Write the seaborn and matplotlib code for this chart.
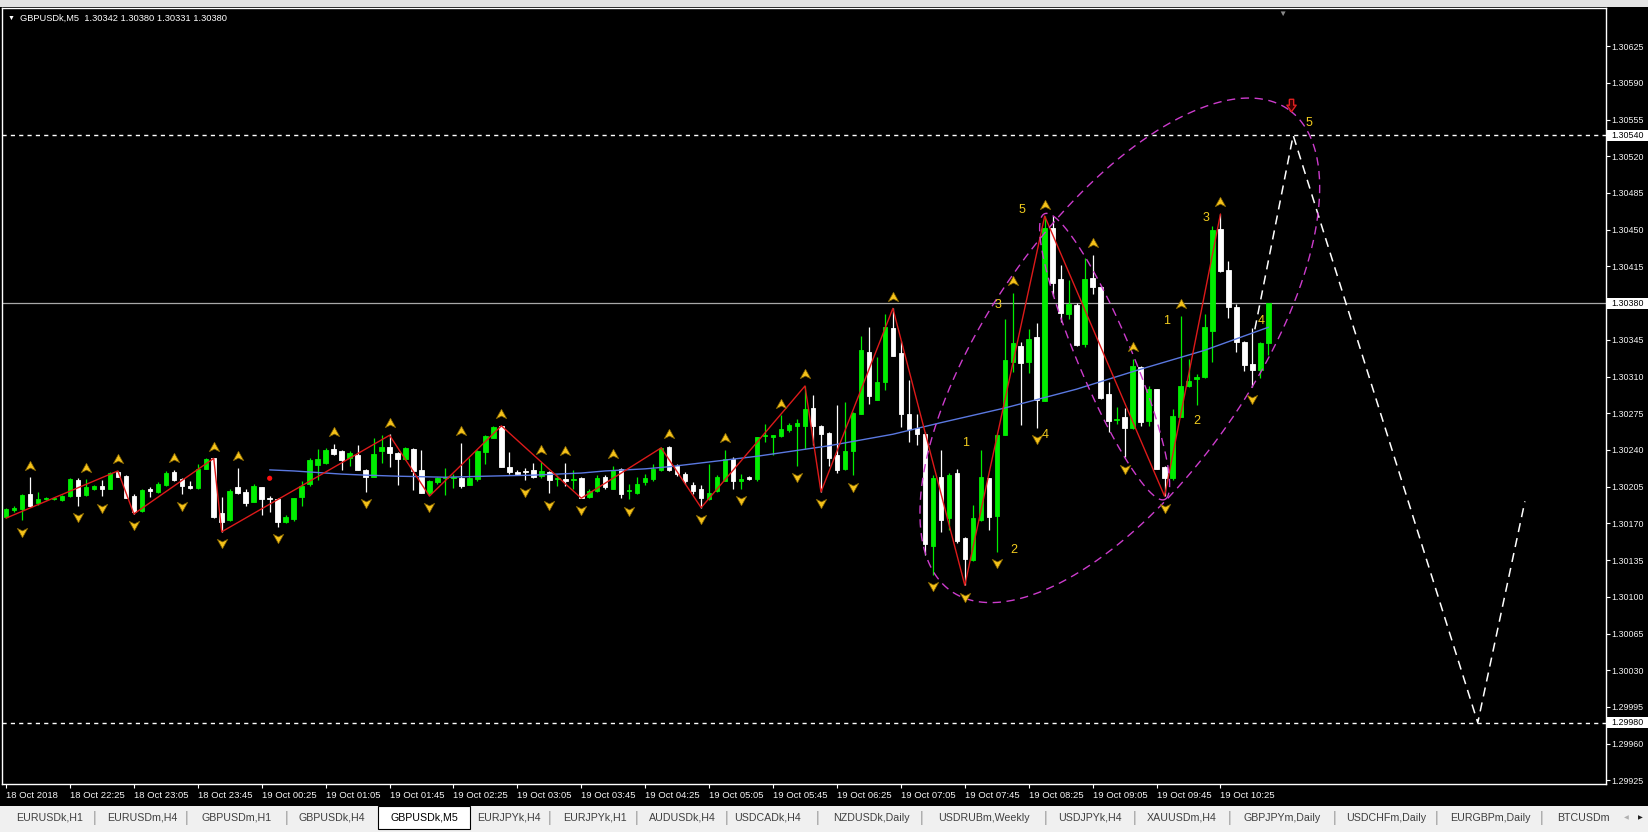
import numpy as np
import pandas as pd
import matplotlib
matplotlib.use("Agg")
import matplotlib.pyplot as plt
import matplotlib.transforms as mtransforms
from matplotlib.patches import Rectangle
import seaborn as sns

# ---------------------------------------------------------------- data
symbol = "GBPUSDk,M5"
header_ohlc = ["1.30342", "1.30380", "1.30331", "1.30380"]

opens = [
    1.30176, 1.30183, 1.30184, 1.30198, 1.30189, 1.30193, 1.30193, 1.30192, 1.30196, 1.30211,
    1.30197, 1.30203, 1.30206, 1.30203, 1.30219, 1.30215, 1.30196, 1.30182, 1.30203, 1.30200,
    1.30207, 1.30219, 1.30212, 1.30206, 1.30204, 1.30222, 1.30232, 1.30180, 1.30173, 1.30205,
    1.30200, 1.30190, 1.30205, 1.30194, 1.30193, 1.30171, 1.30174, 1.30195, 1.30208, 1.30226,
    1.30228, 1.30241, 1.30239, 1.30232, 1.30235, 1.30221, 1.30214, 1.30239, 1.30243, 1.30237,
    1.30231, 1.30241, 1.30221, 1.30199, 1.30209, 1.30213, 1.30213, 1.30213, 1.30207, 1.30212,
    1.30238, 1.30251, 1.30263, 1.30224, 1.30219, 1.30220, 1.30221, 1.30215, 1.30219, 1.30212,
    1.30212, 1.30211, 1.30213, 1.30195, 1.30201, 1.30214, 1.30203, 1.30222, 1.30201, 1.30199,
    1.30209, 1.30212, 1.30221, 1.30243, 1.30225, 1.30217, 1.30207, 1.30203, 1.30193, 1.30201,
    1.30210, 1.30231, 1.30210, 1.30214, 1.30212, 1.30253, 1.30252, 1.30253, 1.30259, 1.30263,
    1.30263, 1.30280, 1.30263, 1.30256, 1.30235, 1.30222, 1.30239, 1.30274, 1.30333, 1.30288,
    1.30305, 1.30356, 1.30332, 1.30274, 1.30261, 1.30255, 1.30148, 1.30214, 1.30175, 1.30218,
    1.30156, 1.30135, 1.30173, 1.30213, 1.30177, 1.30254, 1.30324, 1.30339, 1.30324, 1.30348,
    1.30287, 1.30452, 1.30403, 1.30370, 1.30378, 1.30341, 1.30404, 1.30395, 1.30293, 1.30269,
    1.30271, 1.30261, 1.30319, 1.30268, 1.30298, 1.30224, 1.30213, 1.30271, 1.30301, 1.30308,
    1.30310, 1.30353, 1.30451, 1.30412, 1.30376, 1.30343, 1.30322, 1.30316, 1.30342]
highs = [
    1.30185, 1.30187, 1.30198, 1.30214, 1.30200, 1.30195, 1.30195, 1.30197, 1.30213, 1.30213,
    1.30212, 1.30207, 1.30211, 1.30219, 1.30220, 1.30216, 1.30198, 1.30203, 1.30205, 1.30209,
    1.30220, 1.30221, 1.30213, 1.30210, 1.30227, 1.30232, 1.30232, 1.30195, 1.30203, 1.30223,
    1.30203, 1.30208, 1.30205, 1.30196, 1.30194, 1.30178, 1.30194, 1.30210, 1.30232, 1.30241,
    1.30242, 1.30246, 1.30240, 1.30239, 1.30245, 1.30222, 1.30251, 1.30254, 1.30255, 1.30238,
    1.30243, 1.30242, 1.30240, 1.30211, 1.30214, 1.30223, 1.30217, 1.30247, 1.30232, 1.30240,
    1.30254, 1.30263, 1.30263, 1.30238, 1.30221, 1.30223, 1.30228, 1.30229, 1.30220, 1.30216,
    1.30228, 1.30221, 1.30214, 1.30203, 1.30216, 1.30216, 1.30225, 1.30223, 1.30208, 1.30214,
    1.30217, 1.30227, 1.30243, 1.30244, 1.30227, 1.30219, 1.30209, 1.30207, 1.30227, 1.30216,
    1.30240, 1.30233, 1.30217, 1.30215, 1.30252, 1.30265, 1.30254, 1.30273, 1.30266, 1.30270,
    1.30301, 1.30292, 1.30264, 1.30257, 1.30283, 1.30286, 1.30276, 1.30349, 1.30357, 1.30329,
    1.30370, 1.30375, 1.30344, 1.30307, 1.30274, 1.30257, 1.30216, 1.30240, 1.30218, 1.30222,
    1.30157, 1.30188, 1.30240, 1.30213, 1.30255, 1.30365, 1.30390, 1.30343, 1.30355, 1.30361,
    1.30463, 1.30463, 1.30416, 1.30402, 1.30380, 1.30423, 1.30426, 1.30396, 1.30305, 1.30281,
    1.30280, 1.30327, 1.30320, 1.30301, 1.30298, 1.30225, 1.30279, 1.30368, 1.30327, 1.30312,
    1.30370, 1.30454, 1.30465, 1.30420, 1.30379, 1.30344, 1.30356, 1.30343, 1.30380]
lows = [
    1.30175, 1.30181, 1.30173, 1.30186, 1.30188, 1.30192, 1.30192, 1.30191, 1.30195, 1.30187,
    1.30196, 1.30202, 1.30196, 1.30203, 1.30214, 1.30194, 1.30179, 1.30181, 1.30195, 1.30199,
    1.30206, 1.30210, 1.30198, 1.30203, 1.30203, 1.30222, 1.30175, 1.30162, 1.30172, 1.30198,
    1.30187, 1.30190, 1.30178, 1.30181, 1.30167, 1.30170, 1.30172, 1.30187, 1.30206, 1.30211,
    1.30227, 1.30235, 1.30221, 1.30225, 1.30221, 1.30200, 1.30214, 1.30228, 1.30224, 1.30207,
    1.30230, 1.30202, 1.30199, 1.30197, 1.30208, 1.30197, 1.30204, 1.30204, 1.30207, 1.30210,
    1.30227, 1.30251, 1.30224, 1.30217, 1.30216, 1.30211, 1.30213, 1.30213, 1.30199, 1.30206,
    1.30206, 1.30203, 1.30194, 1.30194, 1.30200, 1.30203, 1.30203, 1.30194, 1.30193, 1.30198,
    1.30207, 1.30210, 1.30220, 1.30220, 1.30215, 1.30208, 1.30198, 1.30185, 1.30192, 1.30200,
    1.30210, 1.30203, 1.30203, 1.30211, 1.30210, 1.30248, 1.30235, 1.30252, 1.30257, 1.30225,
    1.30241, 1.30245, 1.30200, 1.30225, 1.30218, 1.30221, 1.30216, 1.30274, 1.30284, 1.30288,
    1.30297, 1.30330, 1.30262, 1.30248, 1.30245, 1.30140, 1.30121, 1.30162, 1.30164, 1.30151,
    1.30111, 1.30134, 1.30172, 1.30164, 1.30143, 1.30254, 1.30314, 1.30264, 1.30313, 1.30261,
    1.30287, 1.30387, 1.30362, 1.30365, 1.30339, 1.30338, 1.30389, 1.30289, 1.30257, 1.30265,
    1.30233, 1.30260, 1.30263, 1.30263, 1.30222, 1.30196, 1.30211, 1.30271, 1.30300, 1.30283,
    1.30309, 1.30324, 1.30410, 1.30366, 1.30333, 1.30315, 1.30300, 1.30309, 1.30331]
closes = [
    1.30184, 1.30185, 1.30197, 1.30187, 1.30193, 1.30194, 1.30194, 1.30196, 1.30212, 1.30196,
    1.30205, 1.30206, 1.30203, 1.30218, 1.30214, 1.30194, 1.30181, 1.30202, 1.30201, 1.30208,
    1.30218, 1.30211, 1.30206, 1.30204, 1.30222, 1.30231, 1.30176, 1.30171, 1.30201, 1.30199,
    1.30189, 1.30206, 1.30193, 1.30193, 1.30171, 1.30176, 1.30194, 1.30206, 1.30230, 1.30231,
    1.30240, 1.30236, 1.30230, 1.30237, 1.30221, 1.30214, 1.30236, 1.30243, 1.30237, 1.30231,
    1.30242, 1.30220, 1.30199, 1.30210, 1.30213, 1.30214, 1.30214, 1.30206, 1.30213, 1.30239,
    1.30253, 1.30262, 1.30224, 1.30219, 1.30217, 1.30219, 1.30214, 1.30220, 1.30211, 1.30213,
    1.30210, 1.30212, 1.30194, 1.30201, 1.30213, 1.30205, 1.30221, 1.30198, 1.30202, 1.30208,
    1.30213, 1.30222, 1.30242, 1.30221, 1.30217, 1.30210, 1.30201, 1.30194, 1.30199, 1.30214,
    1.30231, 1.30210, 1.30212, 1.30212, 1.30252, 1.30254, 1.30254, 1.30260, 1.30264, 1.30266,
    1.30279, 1.30263, 1.30255, 1.30232, 1.30221, 1.30239, 1.30275, 1.30335, 1.30291, 1.30305,
    1.30357, 1.30330, 1.30274, 1.30260, 1.30255, 1.30150, 1.30213, 1.30173, 1.30216, 1.30153,
    1.30136, 1.30175, 1.30214, 1.30176, 1.30254, 1.30326, 1.30342, 1.30323, 1.30346, 1.30288,
    1.30452, 1.30399, 1.30371, 1.30379, 1.30340, 1.30403, 1.30395, 1.30290, 1.30268, 1.30270,
    1.30261, 1.30320, 1.30267, 1.30298, 1.30222, 1.30213, 1.30272, 1.30301, 1.30306, 1.30310,
    1.30357, 1.30450, 1.30411, 1.30376, 1.30343, 1.30321, 1.30316, 1.30342, 1.30380]

time_labels = ["18 Oct 2018", "18 Oct 22:25", "18 Oct 23:05", "18 Oct 23:45",
               "19 Oct 00:25", "19 Oct 01:05", "19 Oct 01:45", "19 Oct 02:25",
               "19 Oct 03:05", "19 Oct 03:45", "19 Oct 04:25", "19 Oct 05:05",
               "19 Oct 05:45", "19 Oct 06:25", "19 Oct 07:05", "19 Oct 07:45",
               "19 Oct 08:25", "19 Oct 09:05", "19 Oct 09:45", "19 Oct 10:25"]
time_label_bars = [0, 8, 16, 24, 32, 40, 48, 56, 64, 72, 80, 88, 96, 104,
                   112, 120, 128, 136, 144, 152]

price_ticks = [1.30625, 1.30590, 1.30555, 1.30520, 1.30485, 1.30450, 1.30415,
               1.30380, 1.30345, 1.30310, 1.30275, 1.30240, 1.30205, 1.30170,
               1.30135, 1.30100, 1.30065, 1.30030, 1.29995, 1.29960, 1.29925]
dotted_levels = [1.30540, 1.29980]
bid_level = 1.30380
boxed_levels = [1.30540, 1.30380, 1.29980]

ma_bars = [33, 36, 42, 45, 49, 55, 60, 66, 72, 75, 80, 83, 94, 103, 111, 117,
           125, 134, 142, 150, 158]
ma_values = [1.30221, 1.30220, 1.30217, 1.30216, 1.30215, 1.30214, 1.30215,
             1.30216, 1.30218, 1.30220, 1.30222, 1.30224, 1.30234, 1.30244,
             1.30255, 1.30266, 1.30280, 1.30298, 1.30317, 1.30335, 1.30357]

zz_bars = [0, 14, 16, 26, 27, 48, 53, 62, 72, 82, 87, 100, 102, 111, 120, 130, 145, 152]
zz_values = [1.30175, 1.30220, 1.30179, 1.30232, 1.30162, 1.30254, 1.30196, 1.30263,
             1.30194, 1.30242, 1.30185, 1.30301, 1.30200, 1.30375, 1.30111, 1.30463,
             1.30196, 1.30465]

fractal_up_bars = [3, 10, 14, 21, 26, 29, 41, 48, 57, 62, 67, 70, 76, 83, 90, 97,
                   100, 111, 126, 130, 136, 141, 147, 152]
fractal_down_bars = [2, 9, 12, 16, 22, 27, 34, 45, 53, 65, 68, 72, 78, 87, 92, 99,
                     102, 106, 116, 120, 124, 129, 140, 145, 156]

proj_bars = [156.3, 161.1, 184.2, 190.1]
proj_values = [1.30355, 1.30540, 1.29980, 1.30191]

wave_labels = ["5", "3", "1", "2", "4", "1", "2", "3", "4", "5"]
wave_bars = [127.1, 124.1, 120.1, 126.1, 130.0, 145.2, 149.1, 150.2, 157.1, 163.1]
wave_values = [1.30469, 1.30378, 1.30247, 1.30145, 1.30254, 1.30363, 1.30268,
               1.30461, 1.30363, 1.30552]

signal_bar, signal_price = 33, 1.30213
sell_arrow_bar, sell_arrow_price = 160.8, 1.30569
shift_bar = 159.8

# ellipses: centre (bar, price), semi axes in pixels, angle (deg)
ellipses = [
    dict(bar=139.4, price=1.30335, a=294, b=131, angle=55),
    dict(bar=137.5, price=1.30329, a=155, b=27, angle=-67.2),
]

tabs = ["EURUSDk,H1", "EURUSDm,H4", "GBPUSDm,H1", "GBPUSDk,H4", "GBPUSDk,M5",
        "EURJPYk,H4", "EURJPYk,H1", "AUDUSDk,H4", "USDCADk,H4", "NZDUSDk,Daily",
        "USDRUBm,Weekly", "USDJPYk,H4", "XAUUSDm,H4", "GBPJPYm,Daily",
        "USDCHFm,Daily", "EURGBPm,Daily"]
tab_centers = [50, 142, 237, 332, 424, 509, 595, 682, 768, 871, 984, 1090, 1182,
               1282, 1386, 1490]
tab_separators = [95, 187, 287, 550, 637, 727, 818, 922, 1046, 1135, 1230, 1335, 1437, 1542]
active_tab = "GBPUSDk,M5"

# ---------------------------------------------------------------- style
sns.set_theme(style="dark")
plt.rcParams["font.family"] = ["Liberation Sans", "DejaVu Sans"]

W, H = 1649, 832
fig = plt.figure(figsize=(W / 100, H / 100), dpi=100, facecolor="black")

L, R, T, B = 2, 1606, 8.4, 783.5
ax = fig.add_axes([L / W, 1 - B / H, (R - L) / W, (B - T) / H])
ax.set_facecolor("black")
ax.grid(False)
ax.set_xlim(-0.5, 200.25)
ax.set_ylim(1.29922, 1.30661)
for s in ax.spines.values():
    s.set_visible(True)
    s.set_color("white")
    s.set_linewidth(1.0)

df = pd.DataFrame(dict(o=opens, h=highs, l=lows, c=closes))
df["bar"] = np.arange(len(df))
bull = df["c"] >= df["o"]
cols = np.where(bull, "#00ee00", "#ffffff")

# horizontal levels
for lv in dotted_levels:
    ax.axhline(lv, color="white", lw=1.0, ls=(0, (3, 3)), zorder=1)
ax.axhline(bid_level, color="#a8a8a8", lw=0.9, zorder=1)

# candles
ax.vlines(df["bar"], df["l"], df["h"], colors=cols, lw=0.9, zorder=2)
ax.bar(df["bar"], (df["c"] - df["o"]).abs(), bottom=np.minimum(df["o"], df["c"]),
       width=0.56, color=cols, edgecolor=cols, linewidth=0.6, zorder=3)

# moving average, zigzag, projection
sns.lineplot(x=ma_bars, y=ma_values, ax=ax, color="#5a78e0", lw=1.0,
             estimator=None, zorder=4)
sns.lineplot(x=zz_bars, y=zz_values, ax=ax, color="#dd1a1a", lw=1.0,
             estimator=None, zorder=4)
sns.lineplot(x=proj_bars, y=proj_values, ax=ax, color="white", lw=1.1,
             linestyle=(0, (6, 4)), estimator=None, zorder=4)

# ellipses (drawn in pixel space, converted back to data space)
fig.canvas.draw()
t = np.linspace(0, 2 * np.pi, 500)
for e in ellipses:
    cx, cy = ax.transData.transform((e["bar"], e["price"]))
    ang = np.deg2rad(e["angle"])
    xs, ys = e["a"] * np.cos(t), e["b"] * np.sin(t)
    X = cx + xs * np.cos(ang) - ys * np.sin(ang)
    Y = cy + xs * np.sin(ang) + ys * np.cos(ang)
    pts = ax.transData.inverted().transform(np.column_stack([X, Y]))
    ax.plot(pts[:, 0], pts[:, 1], color="#cc3ccc", lw=1.0,
            ls=(0, (6, 4)), zorder=5)

# fractal arrows
up_marker = [(0, 1), (1, -0.8), (0, -0.3), (-1, -0.8), (0, 1)]
down_marker = [(x, -y) for x, y in up_marker]
off = 0.00011
sns.scatterplot(x=fractal_up_bars, y=[highs[i] + off for i in fractal_up_bars],
                ax=ax, marker=up_marker, s=58, color="#f5c21a",
                edgecolor="#7a5c00", linewidth=0.5, zorder=6)
sns.scatterplot(x=fractal_down_bars, y=[lows[i] - off for i in fractal_down_bars],
                ax=ax, marker=down_marker, s=58, color="#f5c21a",
                edgecolor="#7a5c00", linewidth=0.5, zorder=6)
sns.scatterplot(x=[signal_bar], y=[signal_price], ax=ax, color="#ff1010",
                s=14, edgecolor="none", zorder=6)

# sell arrow (hollow red block arrow)
sell_marker = [(-0.35, 1), (0.35, 1), (0.35, 0.05), (0.75, 0.05), (0, -1),
               (-0.75, 0.05), (-0.35, 0.05), (-0.35, 1)]
sns.scatterplot(x=[sell_arrow_bar], y=[sell_arrow_price], ax=ax,
                marker=sell_marker, s=80, color="#3a0000",
                edgecolor="#e02020", linewidth=1.0, zorder=7)

# wave numbers
for lab, bx, pv in zip(wave_labels, wave_bars, wave_values):
    ax.text(bx, pv, lab, color="#f2cc1e", fontsize=9, ha="center", va="center",
            zorder=7)

# axes ticks
ax.yaxis.tick_right()
ax.set_yticks(price_ticks)
ax.set_yticklabels([f"{v:.5f}" for v in price_ticks])
ax.tick_params(axis="y", right=True, left=False, labelright=True, labelleft=False,
               colors="white", labelcolor="#f4f4f4", labelsize=6.4, length=3,
               width=0.8, pad=1, direction="out")
ax.set_xticks(time_label_bars)
ax.set_xticklabels(time_labels, ha="left")
ax.tick_params(axis="x", bottom=True, colors="white", labelcolor="#f4f4f4",
               labelsize=6.8, length=3, width=0.8, pad=2.5, direction="out")
ax.set_xlabel("")
ax.set_ylabel("")

# boxed price labels
bt = mtransforms.blended_transform_factory(ax.transAxes, ax.transData)
hbox = 5.5 / 104870
for lv in boxed_levels:
    ax.add_patch(Rectangle((1.0005, lv - hbox), 0.03, 2 * hbox, transform=bt,
                           facecolor="white", edgecolor="none", clip_on=False,
                           zorder=8))
    ax.text(1.0 + 5.5 / 1604, lv, f"{lv:.5f}", transform=bt, color="black",
            fontsize=6.4, ha="left", va="center", clip_on=False, zorder=9)

# header
ax.text(6 / 1604, 1 - 10 / 775, "▼", transform=ax.transAxes, color="white",
        fontsize=5, ha="left", va="center")
ax.text(18 / 1604, 1 - 10 / 775,
        f"{symbol}  " + " ".join(header_ohlc), transform=ax.transAxes,
        color="white", fontsize=6.7, ha="left", va="center")
ax.text(shift_bar, 0.997, "▼",
        transform=mtransforms.blended_transform_factory(ax.transData, ax.transAxes),
        color="#8a8a8a", fontsize=6, ha="center", va="top")

# ---------------------------------------------------------------- chrome
def fy(y):
    return 1 - y / H

fig.patches.append(Rectangle((0, fy(7)), 1, 7 / H, transform=fig.transFigure,
                             facecolor="#e4e4e4", edgecolor="none", zorder=0))
fig.patches.append(Rectangle((0, 0), 1, 26 / H, transform=fig.transFigure,
                             facecolor="#f0f0f0", edgecolor="none", zorder=0))
for name, cx in zip(tabs, tab_centers):
    if name == active_tab:
        fig.patches.append(Rectangle((378 / W, fy(829)), 92 / W, 23 / H,
                                     transform=fig.transFigure, facecolor="white",
                                     edgecolor="black", linewidth=0.8, zorder=1))
    fig.text(cx / W, fy(818), name, color="#000000" if name == active_tab else "#404040",
             fontsize=7.7, ha="center", va="center", zorder=2)
for sx in tab_separators:
    fig.text(sx / W, fy(818), "|", color="#9a9a9a", fontsize=10, ha="center",
             va="center")
fig.text(1557 / W, fy(818), "BTCUSDm", color="#404040", fontsize=7.7,
         ha="left", va="center")
fig.text(1626 / W, fy(818), "◀", color="#b0b0b0", fontsize=4.5, ha="center",
         va="center", family=["DejaVu Sans"])
fig.text(1640 / W, fy(818), "▶", color="#202020", fontsize=4.5, ha="center",
         va="center", family=["DejaVu Sans"])

fig.savefig("out.png", dpi=100, facecolor="black")
